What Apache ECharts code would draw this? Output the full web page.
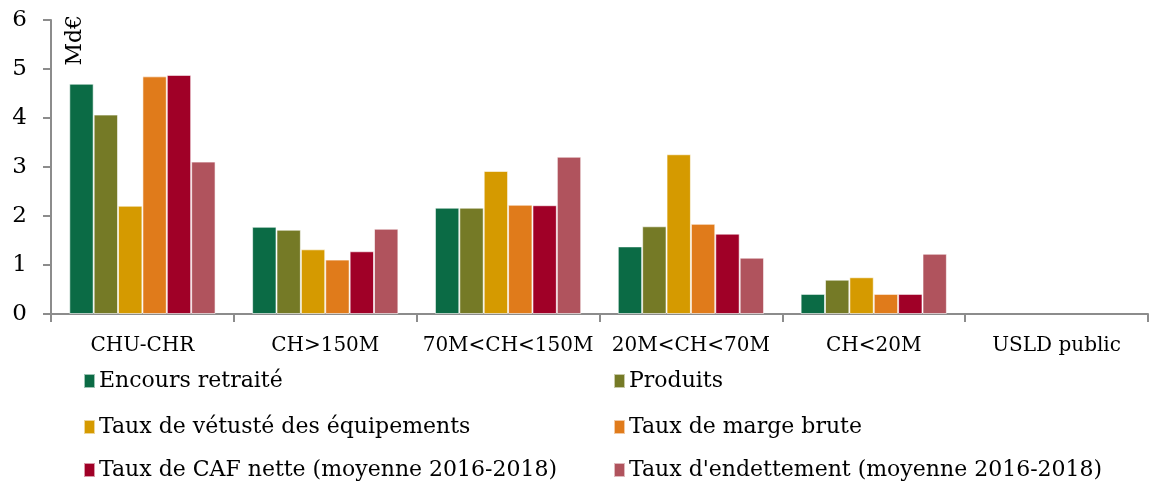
<!DOCTYPE html>
<html>
<head>
<meta charset="utf-8">
<script src="https://cdn.jsdelivr.net/npm/echarts@6/dist/echarts.min.js"></script>
<style>
  html, body { margin: 0; padding: 0; background: #fff; }
  #chart { width: 1150px; height: 482px; }
</style>
</head>
<body>
<div id="chart"></div>
<script>
// catégories
const categories = ["CHU-CHR", "CH>150M", "70M<CH<150M", "20M<CH<70M", "CH<20M", "USLD public"];
const yTicks = [0, 1, 2, 3, 4, 5, 6];
// séries (Md€)
const encours = [4.70, 1.78, 2.17, 1.38, 0.41, null];
const produits = [4.07, 1.72, 2.17, 1.79, 0.70, null];
const vetuste = [2.21, 1.32, 2.92, 3.26, 0.75, null];
const marge = [4.85, 1.11, 2.23, 1.84, 0.41, null];
const caf = [4.88, 1.28, 2.22, 1.64, 0.41, null];
const endettement = [3.11, 1.74, 3.21, 1.15, 1.23, null];

const seriesNames = [
  "Encours retraité",
  "Produits",
  "Taux de vétusté des équipements",
  "Taux de marge brute",
  "Taux de CAF nette (moyenne 2016-2018)",
  "Taux d'endettement (moyenne 2016-2018)"
];
const seriesData = [encours, produits, vetuste, marge, caf, endettement];
const colors = ["#0b6b45", "#757a26", "#d59a00", "#e07b1b", "#a00027", "#b0535d"];

const font = "'DejaVu Serif', serif";

const chart = echarts.init(document.getElementById("chart"));

// légende : 2 colonnes x 3 lignes
const legendLeft = [78, 608];
const legendTop = [365, 411, 454];
const legends = seriesNames.map((name, i) => ({
  left: legendLeft[i % 2],
  top: legendTop[Math.floor(i / 2)],
  itemWidth: 11,
  itemHeight: 14,
  itemGap: 0,
  icon: "rect",
  formatter: "{t|{name}}",
  textStyle: {
    fontFamily: font,
    fontSize: 22,
    color: "#000",
    rich: { t: { fontFamily: font, fontSize: 22, color: "#000", padding: [0, 0, 0, -1] } }
  },
  data: [name]
}));

chart.setOption({
  animation: false,
  color: colors,
  textStyle: { fontFamily: font },
  grid: { left: 51, right: 2, top: 20, bottom: 168 },
  graphic: [
    {
      type: "text",
      x: 64,
      y: 15,
      rotation: Math.PI / 2,
      style: {
        text: "Md€",
        font: "22px " + font,
        fill: "#000",
        textAlign: "right",
        textVerticalAlign: "top"
      }
    }
  ],
  legend: legends,
  xAxis: {
    type: "category",
    data: categories,
    axisLine: { lineStyle: { color: "#8c8c8c", width: 2 } },
    axisTick: { show: true, length: 8, lineStyle: { color: "#8c8c8c", width: 2 } },
    axisLabel: { fontFamily: font, fontSize: 20, color: "#000", margin: 22, interval: 0 }
  },
  yAxis: {
    type: "value",
    min: yTicks[0],
    max: yTicks[yTicks.length - 1],
    interval: 1,
    axisLine: { show: true, lineStyle: { color: "#8c8c8c", width: 2 } },
    axisTick: { show: true, length: 8, lineStyle: { color: "#8c8c8c", width: 2 } },
    splitLine: { show: false },
    axisLabel: { fontFamily: font, fontSize: 23, color: "#000", margin: 24 }
  },
  series: seriesData.map((d, i) => ({
    name: seriesNames[i],
    type: "bar",
    data: d,
    barGap: "0%",
    barCategoryGap: "20%",
    itemStyle: { borderColor: "rgba(255,255,255,0.6)", borderWidth: 1 }
  }))
});
</script>
</body>
</html>
